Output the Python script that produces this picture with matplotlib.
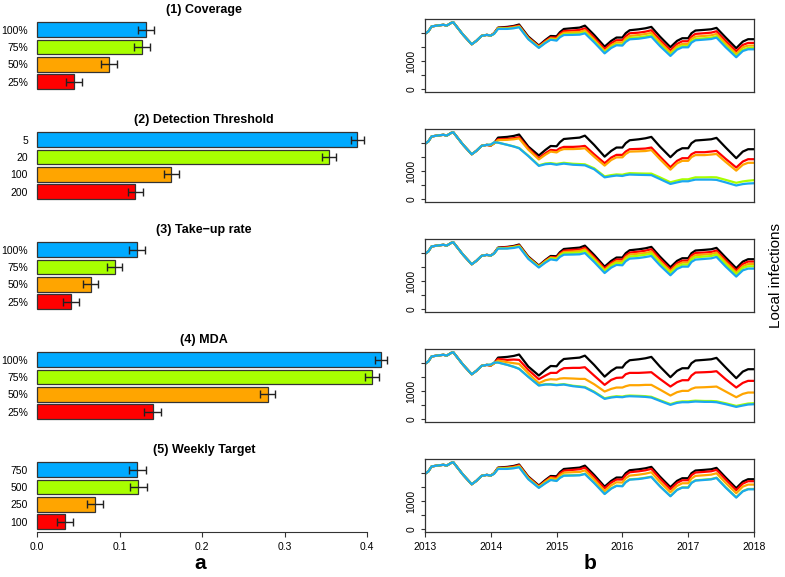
import numpy as np
import matplotlib.pyplot as plt

plt.rcParams['font.family'] = ['Liberation Sans', 'DejaVu Sans']

W, H = 785, 577

# ---- left column: proportion of infections averted (bars, top to bottom) ----
titles = ['(1) Coverage', '(2) Detection Threshold', '(3) Take\u2212up rate',
          '(4) MDA', '(5) Weekly Target']
bar_labels = [['100%', '75%', '50%', '25%'],
              ['5', '20', '100', '200'],
              ['100%', '75%', '50%', '25%'],
              ['100%', '75%', '50%', '25%'],
              ['750', '500', '250', '100']]
bar_values = [[0.132, 0.127, 0.087, 0.0445],
              [0.388, 0.354, 0.163, 0.119],
              [0.121, 0.094, 0.065, 0.041],
              [0.4166, 0.406, 0.2796, 0.140],
              [0.1218, 0.123, 0.0709, 0.034]]
bar_errors = [[0.0095, 0.0095, 0.0097, 0.0097],
              [0.008, 0.008, 0.009, 0.009],
              [0.0095, 0.0095, 0.0095, 0.0095],
              [0.0073, 0.008, 0.0087, 0.0097],
              [0.010, 0.010, 0.0097, 0.0097]]
bar_colors = ['#00AAFF', '#A8FF00', '#FFA500', '#FF0000']

# ---- right column: local infections over time ----
# before 2014 every scenario follows the same curve
pre_time = [2013.0, 2013.05, 2013.10, 2013.18, 2013.28, 2013.33, 2013.40,
            2013.43, 2013.48, 2013.58, 2013.71, 2013.78, 2013.86, 2013.94]
pre_values = [1980, 2060, 2240, 2270, 2300, 2270, 2370,
              2390, 2240, 1940, 1605, 1725, 1905, 1940]

post_time = [2014.00, 2014.05, 2014.11, 2014.25, 2014.35, 2014.43, 2014.57, 2014.73, 2014.83, 2014.91,
             2015.00, 2015.05, 2015.11, 2015.25, 2015.35, 2015.43, 2015.57, 2015.73, 2015.83, 2015.91,
             2016.00, 2016.05, 2016.11, 2016.25, 2016.35, 2016.44, 2016.57, 2016.73, 2016.83, 2016.91,
             2017.00, 2017.05, 2017.11, 2017.25, 2017.35, 2017.43, 2017.57, 2017.73, 2017.83, 2017.91,
             2018.00]

# baseline, no intervention (same in all panels)
baseline = [1915, 2000, 2200, 2225, 2260, 2310, 1880, 1560, 1760, 1900,
            1890, 2035, 2150, 2180, 2200, 2270, 1940, 1520, 1725, 1845,
            1845, 2000, 2105, 2140, 2175, 2225, 1880, 1500, 1725, 1820,
            1820, 2000, 2095, 2120, 2140, 2190, 1845, 1465, 1700, 1785, 1785]

# (1) coverage
cov_red = [1915, 2000, 2188, 2201, 2236, 2274, 1844, 1536, 1724, 1852,
           1842, 1975, 2078, 2096, 2116, 2174, 1844, 1436, 1641, 1749,
           1749, 1892, 1997, 2020, 2055, 2105, 1760, 1392, 1617, 1712,
           1712, 1880, 1975, 2000, 2020, 2070, 1725, 1357, 1580, 1653, 1653]
cov_orange = [1915, 1988, 2176, 2177, 2212, 2250, 1820, 1512, 1688, 1816,
              1794, 1927, 2018, 2036, 2044, 2102, 1772, 1364, 1569, 1677,
              1665, 1808, 1901, 1936, 1971, 2009, 1676, 1308, 1533, 1616,
              1616, 1796, 1879, 1904, 1924, 1974, 1629, 1261, 1496, 1557, 1557]
cov_green = [1915, 1976, 2164, 2165, 2188, 2226, 1796, 1488, 1664, 1780,
             1758, 1879, 1958, 1976, 1984, 2030, 1712, 1316, 1509, 1605,
             1593, 1736, 1829, 1852, 1887, 1925, 1592, 1236, 1461, 1544,
             1544, 1712, 1795, 1820, 1840, 1890, 1545, 1189, 1412, 1473, 1473]
cov_blue = [1915, 1976, 2152, 2153, 2176, 2214, 1784, 1476, 1652, 1768,
            1734, 1855, 1934, 1940, 1948, 1994, 1676, 1280, 1473, 1569,
            1557, 1688, 1781, 1804, 1839, 1877, 1544, 1188, 1413, 1496,
            1496, 1664, 1747, 1772, 1792, 1842, 1497, 1141, 1364, 1425, 1425]

# (2) detection threshold
det_red = [1915, 2000, 2142, 2154, 2178, 2213, 1820, 1464, 1642, 1761,
           1737, 1820, 1868, 1868, 1880, 1904, 1606, 1285, 1487, 1583,
           1583, 1702, 1785, 1797, 1809, 1845, 1523, 1142, 1369, 1464,
           1464, 1607, 1678, 1678, 1702, 1726, 1440, 1131, 1345, 1428, 1428]
det_orange = [1915, 1990, 2110, 2120, 2140, 2170, 1770, 1420, 1590, 1700,
              1670, 1745, 1790, 1790, 1800, 1820, 1520, 1200, 1400, 1495,
              1495, 1615, 1700, 1710, 1720, 1755, 1430, 1055, 1280, 1370,
              1370, 1505, 1575, 1575, 1595, 1615, 1330, 1020, 1230, 1300, 1300]
det_green = [1950, 2030, 2020, 1945, 1885, 1830, 1555, 1210, 1275, 1290,
             1260, 1280, 1300, 1265, 1255, 1245, 1105, 815, 860, 885,
             875, 905, 930, 920, 915, 915, 780, 605, 665, 710,
             710, 745, 780, 780, 785, 780, 690, 585, 635, 660, 680]
det_blue = [1950, 2030, 2020, 1940, 1880, 1820, 1540, 1190, 1250, 1265,
            1230, 1250, 1270, 1230, 1220, 1210, 1070, 780, 820, 845,
            830, 860, 880, 870, 865, 860, 720, 545, 600, 640,
            640, 670, 700, 700, 700, 690, 600, 490, 540, 560, 570]

# (3) take-up rate
tak_red = [1915, 2000, 2188, 2213, 2236, 2286, 1856, 1536, 1736, 1864,
           1854, 1987, 2090, 2120, 2128, 2198, 1868, 1460, 1653, 1773,
           1773, 1916, 2021, 2056, 2091, 2141, 1796, 1416, 1641, 1736,
           1736, 1916, 2011, 2024, 2044, 2094, 1749, 1381, 1616, 1701, 1701]
tak_orange = [1915, 1988, 2176, 2189, 2224, 2262, 1832, 1524, 1712, 1840,
              1818, 1951, 2042, 2060, 2080, 2138, 1808, 1400, 1605, 1713,
              1701, 1856, 1949, 1984, 2007, 2057, 1712, 1356, 1581, 1664,
              1664, 1844, 1927, 1952, 1972, 2022, 1677, 1309, 1532, 1617, 1617]
tak_green = [1915, 1988, 2176, 2177, 2212, 2250, 1820, 1512, 1688, 1816,
             1782, 1915, 1994, 2012, 2020, 2078, 1748, 1352, 1545, 1653,
             1641, 1784, 1877, 1912, 1947, 1985, 1652, 1284, 1509, 1592,
             1592, 1772, 1855, 1880, 1900, 1950, 1605, 1237, 1472, 1533, 1533]
tak_blue = [1915, 1988, 2164, 2165, 2188, 2226, 1796, 1488, 1664, 1780,
            1746, 1867, 1946, 1952, 1960, 2006, 1688, 1292, 1485, 1581,
            1569, 1712, 1805, 1828, 1863, 1901, 1568, 1212, 1437, 1520,
            1520, 1688, 1771, 1796, 1816, 1866, 1521, 1165, 1388, 1449, 1449]

# (4) MDA
mda_red = [1915, 2000, 2154, 2118, 2130, 2118, 1761, 1428, 1559, 1654,
           1654, 1750, 1820, 1833, 1833, 1856, 1559, 1226, 1404, 1476,
           1488, 1607, 1654, 1654, 1666, 1678, 1440, 1166, 1321, 1392,
           1392, 1559, 1666, 1678, 1690, 1714, 1428, 1131, 1297, 1369, 1369]
mda_orange = [1915, 1990, 2094, 2035, 2000, 1975, 1642, 1285, 1392, 1428,
              1416, 1452, 1464, 1452, 1440, 1440, 1250, 988, 1083, 1131,
              1131, 1178, 1214, 1214, 1226, 1226, 1059, 845, 964, 1012,
              1012, 1083, 1131, 1142, 1154, 1166, 988, 785, 904, 952, 952]
mda_green = [1950, 2020, 2025, 1945, 1875, 1805, 1520, 1212, 1250, 1250,
             1228, 1240, 1252, 1195, 1172, 1150, 985, 748, 797, 820,
             808, 833, 846, 834, 822, 800, 680, 540, 611, 636,
             636, 650, 662, 650, 650, 640, 568, 475, 523, 560, 570]
mda_blue = [1950, 2020, 2023, 1940, 1868, 1797, 1511, 1202, 1238, 1238,
            1214, 1226, 1238, 1178, 1154, 1131, 964, 726, 774, 797,
            785, 809, 821, 809, 797, 774, 654, 512, 583, 607,
            607, 619, 631, 619, 619, 607, 535, 440, 488, 524, 535]

# (5) weekly target
wk_red = [1915, 2000, 2188, 2201, 2236, 2286, 1856, 1536, 1724, 1864,
          1842, 1987, 2090, 2120, 2140, 2198, 1868, 1460, 1665, 1773,
          1773, 1928, 2033, 2068, 2103, 2153, 1808, 1428, 1653, 1748,
          1748, 1928, 2023, 2048, 2068, 2118, 1773, 1393, 1628, 1713, 1713]
wk_orange = [1915, 1988, 2176, 2189, 2212, 2262, 1832, 1512, 1700, 1828,
             1794, 1927, 2018, 2036, 2044, 2102, 1772, 1364, 1569, 1677,
             1665, 1820, 1913, 1948, 1983, 2033, 1688, 1320, 1545, 1640,
             1640, 1808, 1903, 1928, 1948, 1998, 1653, 1285, 1520, 1593, 1593]
wk_green = [1915, 1988, 2164, 2165, 2188, 2226, 1796, 1488, 1652, 1768,
            1734, 1843, 1922, 1928, 1936, 1982, 1664, 1268, 1461, 1557,
            1545, 1688, 1781, 1804, 1839, 1877, 1544, 1188, 1413, 1496,
            1496, 1664, 1747, 1772, 1792, 1842, 1497, 1141, 1364, 1437, 1437]
wk_blue = [1915, 1976, 2152, 2153, 2176, 2214, 1784, 1476, 1640, 1756,
           1722, 1831, 1910, 1916, 1924, 1970, 1652, 1256, 1449, 1545,
           1533, 1676, 1769, 1792, 1827, 1865, 1532, 1176, 1401, 1484,
           1484, 1652, 1735, 1760, 1780, 1830, 1485, 1129, 1352, 1425, 1425]

scenarios = [[cov_red, cov_orange, cov_green, cov_blue],
             [det_red, det_orange, det_green, det_blue],
             [tak_red, tak_orange, tak_green, tak_blue],
             [mda_red, mda_orange, mda_green, mda_blue],
             [wk_red, wk_orange, wk_green, wk_blue]]
line_colors = ['#FF0000', '#FFA500', '#A8FF00', '#1AA8F0']

years = [2013, 2014, 2015, 2016, 2017, 2018]
bar_ticks = [0.0, 0.1, 0.2, 0.3, 0.4]


def px_axes(fig, left, top, width, height):
    """add an axes placed with pixel coordinates measured from the top left"""
    return fig.add_axes([left / W, 1 - (top + height) / H, width / W, height / H])


fig = plt.figure(figsize=(W / 100, H / 100), dpi=100)
time = pre_time + post_time

for k in range(5):
    top = 19.3 + 110 * k

    # bars
    ax = px_axes(fig, 37, top, 334, 72.7)
    ypos = [3, 2, 1, 0]
    ax.barh(ypos, bar_values[k], height=0.833, color=bar_colors,
            edgecolor='#333333', linewidth=0.9, clip_on=False)
    ax.errorbar(bar_values[k], ypos, xerr=bar_errors[k], fmt='none',
                ecolor='#222222', elinewidth=1.0, capsize=3.2, capthick=1.0,
                clip_on=False)
    ax.set_xlim(0, 334 / 825)
    ax.set_ylim(-0.6, 3.6)
    ax.set_yticks(ypos)
    ax.set_yticklabels(bar_labels[k], fontsize=7.5)
    ax.tick_params(axis='y', length=0, pad=6.5)
    for s in ['top', 'right', 'left']:
        ax.spines[s].set_visible(False)
    if k == 4:
        ax.set_xticks(bar_ticks)
        ax.set_xticklabels(['%.1f' % v for v in bar_ticks], fontsize=7.5)
        ax.spines['bottom'].set_bounds(0, 0.4)
        ax.spines['bottom'].set_color('#333333')
        ax.tick_params(axis='x', length=3.5, pad=3.5, color='#333333')
    else:
        ax.spines['bottom'].set_visible(False)
        ax.set_xticks([])
    fig.text(204 / W, 1 - (10 + 110 * k) / H, titles[k], ha='center', va='center',
             fontsize=9, fontweight='bold')

    # time series
    ax2 = px_axes(fig, 425, top, 329, 72.6)
    ax2.plot(time, pre_values + baseline, color='black', lw=1.6)
    for curve, c in zip(scenarios[k], line_colors):
        ax2.plot(time, pre_values + curve, color=c, lw=1.6)
    ax2.set_xlim(2013, 2018)
    ax2.set_ylim(-96, 2496)
    ax2.set_yticks([0, 500, 1000, 1500, 2000])
    ax2.set_yticklabels(['0', '', '1000', '', ''], fontsize=7.5, rotation=90, va='center')
    ax2.tick_params(axis='y', length=3, pad=3, color='#333333')
    for s in ax2.spines.values():
        s.set_color('#333333')
        s.set_linewidth(0.9)
    if k == 4:
        ax2.set_xticks(years)
        ax2.set_xticklabels([str(y) for y in years], fontsize=7.5)
        ax2.tick_params(axis='x', length=3.5, pad=3.5, color='#333333')
    else:
        ax2.set_xticks([])

fig.text(200 / W, 1 - 569 / H, 'a', ha='center', va='baseline', fontsize=15, fontweight='bold')
fig.text(590 / W, 1 - 569 / H, 'b', ha='center', va='baseline', fontsize=15, fontweight='bold')
fig.text(776 / W, 1 - 276 / H, 'Local infections', rotation=90, ha='center', va='center',
         fontsize=11)

fig.savefig('out.png', dpi=100)
